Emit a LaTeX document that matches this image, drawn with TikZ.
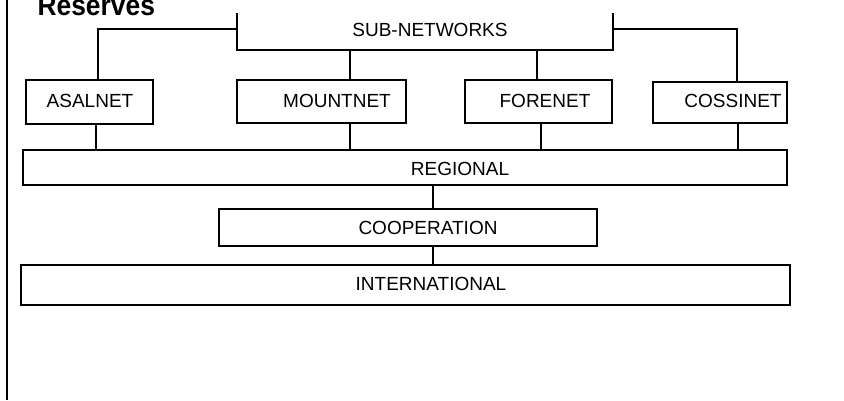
\documentclass[tikz,border=0pt]{standalone}
\usepackage{fontspec}
\setmainfont{Liberation Sans}
\newfontfamily\headfont[FakeStretch=0.91]{Liberation Sans}
\begin{document}
\begin{tikzpicture}[x=1pt,y=-1pt,
  line width=1.2pt,
  box/.style={draw, rectangle, inner sep=0pt},
  lbl/.style={inner sep=0pt, font=\fontsize{19}{22}\selectfont}]
  \useasboundingbox (0,0) rectangle (844,400);
  \clip (0,0) rectangle (844,400);

  % page margin rule
  \draw (7,0) -- (7,400);

  % heading
  \node[anchor=base west, inner sep=0pt, font=\headfont\fontsize{29}{32}\selectfont\bfseries] (title) at (37,15) {Reserves};

  % sub-networks bracket
  \coordinate (subtl) at (237,13);
  \coordinate (subtr) at (613,13);
  \coordinate (subbl) at (237,50);
  \coordinate (subbr) at (613,50);
  \draw (subtl) -- (subbl) -- (subbr) -- (subtr);
  \node[lbl] (sub) at (430,30) {SUB-NETWORKS};
  \coordinate (subl) at (237,29);
  \coordinate (subr) at (613,29);

  % sub-network boxes
  \node[box, minimum width=127pt, minimum height=44pt] (asal) at (89.5,102) {};
  \node[lbl] (asalt) at (90,101) {ASALNET};
  \node[box, minimum width=169pt, minimum height=43pt] (mount) at (321.5,101.5) {};
  \node[lbl] (mountt) at (337,101) {MOUNTNET};
  \node[box, minimum width=147pt, minimum height=43pt] (fore) at (538.5,101.5) {};
  \node[lbl] (foret) at (545,101) {FORENET};
  \node[box, minimum width=134pt, minimum height=41pt] (coss) at (720,102.5) {};
  \node[lbl] (cosst) at (733,101) {COSSINET};

  % level bars
  \node[box, minimum width=764pt, minimum height=35pt] (reg) at (405,167.5) {};
  \node[lbl] (regt) at (460,169) {REGIONAL};
  \node[box, minimum width=378pt, minimum height=37pt] (coop) at (408,227.5) {};
  \node[lbl] (coopt) at (428,228) {COOPERATION};
  \node[box, minimum width=769pt, minimum height=40pt] (intl) at (405.5,285) {};
  \node[lbl] (intlt) at (431,284) {INTERNATIONAL};

  % links from the bracket
  \draw (subl) -| ([xshift=8.5pt]asal.north);
  \draw (subr) -| ([xshift=17pt]coss.north);
  \draw ([xshift=28.5pt]mount.north) -- ([xshift=28.5pt]mount.north |- subbl);
  \draw ([xshift=-1.5pt]fore.north) -- ([xshift=-1.5pt]fore.north |- subbl);

  % links down to the regional bar
  \draw ([xshift=6.5pt]asal.south) -- ([xshift=6.5pt]asal.south |- reg.north);
  \draw ([xshift=28.5pt]mount.south) -- ([xshift=28.5pt]mount.south |- reg.north);
  \draw ([xshift=2.5pt]fore.south) -- ([xshift=2.5pt]fore.south |- reg.north);
  \draw ([xshift=18pt]coss.south) -- ([xshift=18pt]coss.south |- reg.north);

  % regional -> cooperation -> international
  \draw ([xshift=28pt]reg.south) -- ([xshift=28pt]reg.south |- coop.north);
  \draw ([xshift=25pt]coop.south) -- ([xshift=25pt]coop.south |- intl.north);
\end{tikzpicture}
\end{document}
